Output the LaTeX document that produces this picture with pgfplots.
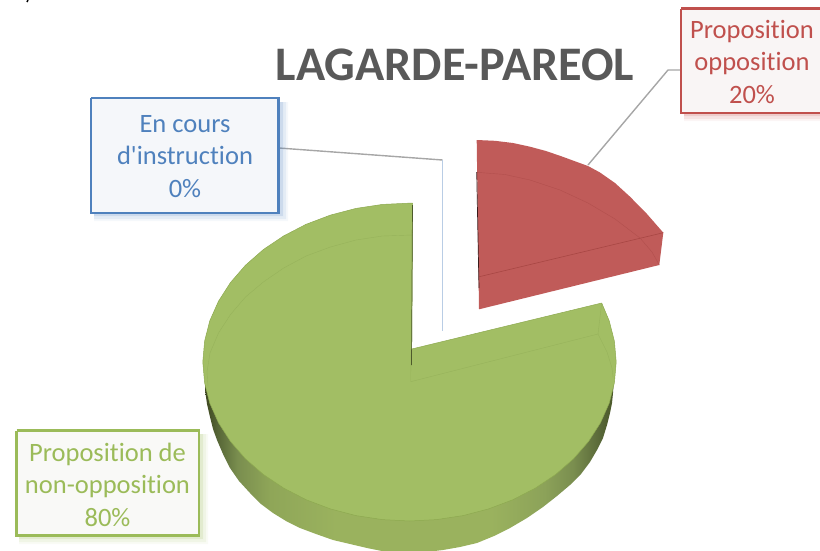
\documentclass[border=0pt]{standalone}
\usepackage{pgfplots}
\usepackage{fontspec}
\setmainfont{Carlito}[Ligatures={TeXOff,CommonOff}]
\pgfplotsset{compat=1.18}
\definecolor{tgreen}{HTML}{9BBB59}
\definecolor{topgreen}{HTML}{A2BE64}
\definecolor{edgegreen}{HTML}{8DA950}
\definecolor{ghostgreen}{HTML}{97B35B}
\definecolor{tred}{HTML}{C0504D}
\definecolor{topred}{HTML}{C05B59}
\definecolor{edgered}{HTML}{A84744}
\definecolor{ghostred}{HTML}{B24F4D}
\definecolor{tblue}{HTML}{4F81BD}
\definecolor{ttl}{HTML}{595959}
\definecolor{fblue}{HTML}{F5F7FA}
\definecolor{fred}{HTML}{F9F5F5}
\definecolor{fgreen}{HTML}{F9F9F7}
\definecolor{s1}{HTML}{3D4720}
\definecolor{s2}{HTML}{566536}
\definecolor{s3}{HTML}{7A8E4F}
\definecolor{s4}{HTML}{8FA658}
\definecolor{s5}{HTML}{9AB25E}
\definecolor{s6}{HTML}{8CA259}
\definecolor{s8}{HTML}{4D5A2B}
\pgfdeclarehorizontalshading{wall}{100bp}{color(0bp)=(s1); color(25bp)=(s1); color(26.5bp)=(s2); color(29bp)=(s3); color(33bp)=(s4); color(41bp)=(s5); color(60bp)=(s5); color(66.5bp)=(s6); color(70bp)=(s3); color(73.5bp)=(s2); color(74.7bp)=(s8); color(75bp)=(s1); color(100bp)=(s1)}
\begin{document}
\begin{tikzpicture}
\begin{axis}[
  at={(0,0)}, anchor=south west,
  width=820pt, height=550pt, scale only axis, hide axis,
  xmin=0, xmax=820, ymin=0, ymax=550, y dir=reverse, clip=true]
% leader lines
\addplot[color=black!35, line width=1.4pt] coordinates {(279,148) (442.5,160)};
\addplot[color=tblue!40, line width=1.1pt] coordinates {(442.5,160) (442.5,331)};
\addplot[color=black!35, line width=1.4pt] coordinates {(680,70) (668,70) (588,165)};
% green side wall
\addplot[shading=wall, draw=none] coordinates {
 (205,378) (205,390) (207,404) (210,417) (213,429) (217,440) (223,454) (230,468) (239,481) (250,493)
 (261,504) (273,513) (286,521) (300,528) (316,534) (333,540) (350,544) (367,548) (387,552) (410,554)
 (443,550) (460,547) (477,543) (494,536) (510,528) (527,518) (543,507) (557,496) (570,485) (581,474)
 (590,462) (597,450) (603,438) (607,425) (610,413) (612,403) (613,393) (614,378) (205,378)};
% green top face
\addplot[fill=topgreen, draw=edgegreen, line width=0.5pt, line join=round] coordinates {
 (412.7,203) (382.5,204.4) (356,208.4) (330.4,215.1) (306.1,224.3) (283.7,235.9) (263.3,249.6)
 (245.5,265.2) (230.5,282.5) (218.5,301.2) (209.8,320.8) (204.6,341.2) (202.8,362) (204.6,382.8)
 (209.8,403.2) (218.5,422.8) (230.5,441.5) (245.5,458.8) (263.3,474.4) (283.7,488.1) (306.1,499.7)
 (330.4,508.9) (356,515.6) (382.5,519.6) (409.5,521) (436.5,519.6) (463,515.6) (488.6,508.9)
 (512.9,499.7) (535.3,488.1) (555.7,474.4) (573.5,458.8) (588.5,441.5) (600.5,422.8) (609.2,403.2)
 (614.4,382.8) (616.2,362) (614.4,341.2) (609.2,320.8) (601.7,303) (411.7,349) (412.7,203)};
% green ghost lines
\addplot[color=ghostgreen, line width=0.4pt] coordinates {
 (412.7,235) (382.5,236) (356,240) (330.4,247) (306.1,256) (283.7,268) (263.3,282) (245.5,297)
 (230.5,314.5) (218.5,333) (210,353) (207,372) (208,387)};
\addplot[color=ghostgreen, line width=0.4pt] coordinates {(411,349) (410.7,381.7) (598,334) (601.7,303)};
\addplot[color=ghostgreen, line width=0.4pt] coordinates {(598,334) (607,352) (612,368) (613,377)};
\addplot[color=s8, line width=0.7pt] coordinates {(412.5,205) (411.5,365)};
% red slice
\addplot[fill=topred, draw=none, line join=round] coordinates {
 (476.7,140) (495,140.8) (513,143) (530,146.7) (546,151) (562,156.5) (577,162) (588,166) (600,172.5)
 (615,183) (630,196.7) (647,214) (663.3,232.7)
 (659.3,265) (479,309.3) (476.7,140)};
\addplot[color=edgered, line width=0.6pt] coordinates {(479.3,276.7) (663.3,232.7)};
\addplot[color=ghostred, line width=0.4pt] coordinates {
 (476.7,172.3) (505,174.5) (530,180) (560,190) (588,203) (615,219) (640,238) (652,252) (659.3,265)};
\addplot[color=black!70!topred, line width=0.7pt] coordinates {(476.7,172) (479,288)};
% box shadows
\addplot[fill=tblue, fill opacity=0.06, draw=none] coordinates {(94,102) (288,102) (288,221) (94,221) (94,102)};
\addplot[fill=tblue, fill opacity=0.10, draw=none] coordinates {(94,102) (286,102) (286,219) (94,219) (94,102)};
\addplot[fill=tblue, fill opacity=0.16, draw=none] coordinates {(94,102) (283,102) (283,216) (94,216) (94,102)};
\addplot[fill=tred, fill opacity=0.06, draw=none] coordinates {(684,12) (830,12) (830,121) (684,121) (684,12)};
\addplot[fill=tred, fill opacity=0.10, draw=none] coordinates {(684,12) (830,12) (830,119) (684,119) (684,12)};
\addplot[fill=tred, fill opacity=0.16, draw=none] coordinates {(684,12) (830,12) (830,116) (684,116) (684,12)};
\addplot[fill=tgreen, fill opacity=0.06, draw=none] coordinates {(19,434) (208,434) (208,544) (19,544) (19,434)};
\addplot[fill=tgreen, fill opacity=0.10, draw=none] coordinates {(19,434) (206,434) (206,542) (19,542) (19,434)};
\addplot[fill=tgreen, fill opacity=0.16, draw=none] coordinates {(19,434) (203,434) (203,539) (19,539) (19,434)};
% boxes
\addplot[fill=fblue, draw=tblue, line width=2.2pt] coordinates {(91,98) (278.5,98) (278.5,213) (91,213) (91,98)};
\addplot[fill=fred, draw=tred, line width=2.2pt] coordinates {(681,8.5) (830,8.5) (830,113) (681,113) (681,8.5)};
\addplot[fill=fgreen, draw=tgreen, line width=2.2pt] coordinates {(16.5,430.5) (199,430.5) (199,535.5) (16.5,535.5) (16.5,430.5)};
% stray mark at the top left
\addplot[color=black, line width=1.5pt] coordinates {(28,0) (27,2)};
% texts
\node[text=ttl, font=\fontsize{48.2}{52}\selectfont\bfseries, anchor=center] at (axis cs:455,65) {LAGARDE-PAREOL};
\node[text=tblue, font=\fontsize{26.5}{32.5}\selectfont, align=center] at (axis cs:185,156.5) {En cours\\d'instruction\\0\%};
\node[text=tred, font=\fontsize{26.5}{32.5}\selectfont, align=center] at (axis cs:752,61.5) {Proposition\\opposition\\20\%};
\node[text=tgreen, font=\fontsize{26.5}{32.5}\selectfont, align=center] at (axis cs:107.5,484.5) {Proposition de\\non-opposition\\80\%};
\end{axis}
\pgfresetboundingbox
\useasboundingbox (0,0) rectangle (820pt,550pt);
\end{tikzpicture}
\end{document}
